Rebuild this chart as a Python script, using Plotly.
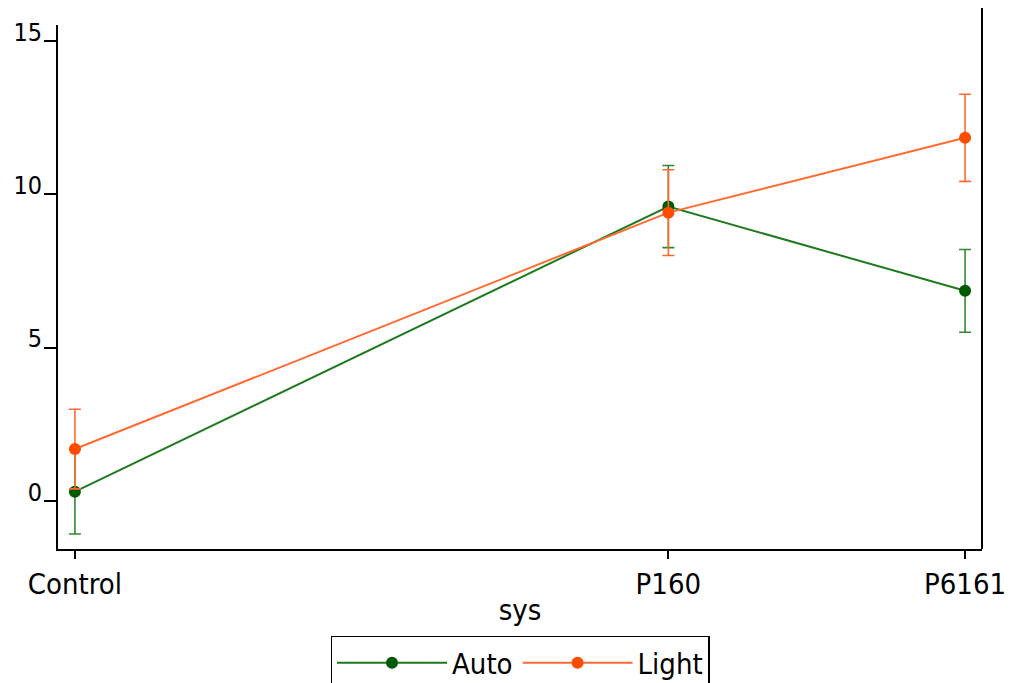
import plotly.graph_objects as go

# data
sys_labels = ["Control", "P160", "P6161"]
sys_pos = [1, 3, 4]
auto_mean = [0.30, 9.60, 6.85]
auto_err = [1.38, 1.34, 1.35]
light_mean = [1.69, 9.40, 11.84]
light_err = [1.30, 1.40, 1.42]
y_ticks = [0, 5, 10, 15]

FONT = "DejaVu Sans Condensed, Liberation Sans Narrow, Liberation Sans, Arial, sans-serif"

fig = go.Figure()
fig.add_trace(go.Scatter(
    x=sys_pos, y=auto_mean, name="Auto", mode="lines+markers",
    line=dict(color="#1f7a1f", width=2),
    marker=dict(color="#005a00", size=12),
    error_y=dict(type="data", array=auto_err, color="#2f8a2f", thickness=1.6, width=6),
))
fig.add_trace(go.Scatter(
    x=sys_pos, y=light_mean, name="Light", mode="lines+markers",
    line=dict(color="#ff6a30", width=2),
    marker=dict(color="#ff4d00", size=12),
    error_y=dict(type="data", array=light_err, color="#ff6a30", thickness=1.6, width=6),
))

fig.update_layout(
    width=1013, height=683,
    margin=dict(l=50, r=39, t=17, b=142, autoexpand=False),
    paper_bgcolor="white", plot_bgcolor="white",
    font=dict(family=FONT, size=25, color="black"),
    showlegend=True,
    legend=dict(
        orientation="h", x=0.5, xanchor="center", y=-0.166, yanchor="top",
        bordercolor="black", borderwidth=1.5, font=dict(size=29),
        itemwidth=110,
    ),
    xaxis=dict(
        range=[0.943, 4.057], tickmode="array", tickvals=sys_pos, ticktext=sys_labels,
        showgrid=False, zeroline=False, showline=True, linecolor="black", linewidth=2,
        ticks="outside", ticklen=8, tickcolor="black", tickwidth=1.5, automargin=False,
        tickfont=dict(size=29),
        title=dict(text="sys", font=dict(size=29), standoff=0),
    ),
    yaxis=dict(
        range=[-1.57, 15.52], tickmode="array", tickvals=y_ticks,
        showgrid=False, zeroline=False, showline=True, linecolor="black", linewidth=2,
        ticks="outside", ticklen=12, tickcolor="black", tickwidth=1.5, automargin=False,
        tickfont=dict(size=25),
        ticklabelshift=-9, ticklabelstandoff=-3,
    ),
    shapes=[dict(type="line", xref="paper", yref="paper", x0=1, x1=1, y0=0, y1=1 + 25 / 524,
                 line=dict(color="black", width=2))],
)

fig.write_html("out.html")
